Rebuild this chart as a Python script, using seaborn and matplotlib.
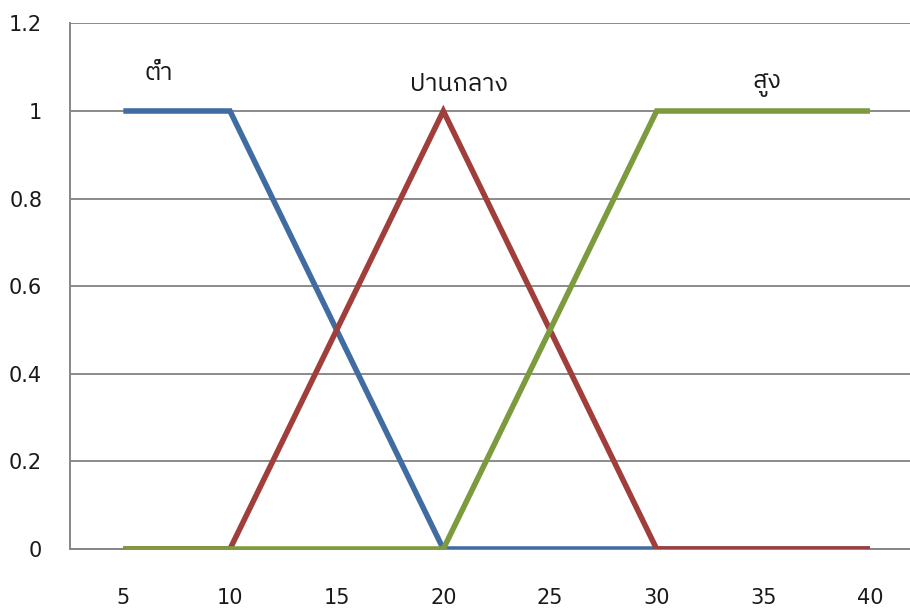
import matplotlib
matplotlib.use("Agg")
import matplotlib.pyplot as plt
import seaborn as sns
import pandas as pd
from matplotlib import font_manager
from matplotlib.ticker import FixedLocator, NullFormatter

categories = [5, 10, 15, 20, 25, 30, 35, 40]
low = [1, 1, 0.5, 0, 0, 0, 0, 0]
mid = [0, 0, 0.5, 1, 0.5, 0, 0, 0]
high = [0, 0, 0, 0, 0.5, 1, 1, 1]
series_names = ["ต่ำ", "ปานกลาง", "สูง"]
y_ticks = [0, 0.2, 0.4, 0.6, 0.8, 1, 1.2]
y_tick_labels = ["0", "0.2", "0.4", "0.6", "0.8", "1", "1.2"]

# find a font that contains Thai glyphs
thai_font = None
try:
    from fontTools.ttLib import TTFont
    cands = []
    for f in font_manager.fontManager.ttflist:
        try:
            tt = TTFont(f.fname, fontNumber=0, lazy=True)
            cmap = tt.getBestCmap()
            if cmap and 0x0E15 in cmap and 0x0E48 in cmap and 0x0E33 in cmap:
                cands.append(f.name)
        except Exception:
            pass
    if cands:
        pref = [c for c in cands if "Sans" in c] or cands
        thai_font = pref[0]
except Exception:
    pass

sns.set_theme(style="white")
fams = ([thai_font] if thai_font else []) + ["DejaVu Sans"]
plt.rcParams["font.family"] = ["DejaVu Sans"]

pos = list(range(len(categories)))
df = pd.DataFrame({
    "pos": pos * 3,
    "value": low + mid + high,
    "series": [series_names[0]] * 8 + [series_names[1]] * 8 + [series_names[2]] * 8,
})

fig = plt.figure(figsize=(9.10, 6.11), dpi=100)
ax = fig.add_axes([70 / 910, 1 - 549 / 611, (923.3 - 70) / 910, (549 - 23.4) / 611])

palette = {series_names[0]: "#416CA2", series_names[1]: "#A03E3B", series_names[2]: "#7C9B3E"}
sns.lineplot(data=df, x="pos", y="value", hue="series", palette=palette,
             linewidth=4.0, legend=False, ax=ax, sort=False)
for ln in ax.get_lines():
    ln.set_solid_capstyle("butt")
    ln.set_solid_joinstyle("miter")
    ln.set_zorder(3)

ax.set_xlim(-0.5, len(categories) - 0.5)
ax.set_ylim(0, 1.2)
ax.set_xlabel("")
ax.set_ylabel("")

ax.set_yticks(y_ticks)
ax.set_yticklabels(y_tick_labels, fontsize=15, color="#1a1a1a")
ax.xaxis.set_major_locator(FixedLocator([p - 0.5 for p in range(len(categories) + 1)]))
ax.xaxis.set_major_formatter(NullFormatter())
ax.xaxis.set_minor_locator(FixedLocator(pos))
ax.set_xticklabels([str(c) for c in categories], minor=True, fontsize=15, color="#1a1a1a")
ax.tick_params(axis="x", which="major", length=8, width=1.3, color="#868686", direction="out")
ax.tick_params(axis="x", which="minor", length=0, pad=28)
ax.tick_params(axis="y", length=8, width=1.3, color="#868686", direction="out", pad=12)

ax.grid(axis="y", color="#8a8a8a", linewidth=1.4)
ax.grid(axis="x", visible=False)
ax.set_axisbelow(True)
for s in ["top", "right"]:
    ax.spines[s].set_visible(False)
for s in ["left", "bottom"]:
    ax.spines[s].set_color("#868686")
    ax.spines[s].set_linewidth(1.4)

label_pos = [(0.33, 1.085), (3.15, 1.06), (6.03, 1.06)]
for name, (lx, ly) in zip(series_names, label_pos):
    ax.text(lx, ly, name, ha="center", va="center", fontsize=18, family=fams, color="#1a1a1a")

fig.savefig("out.png", dpi=100)
